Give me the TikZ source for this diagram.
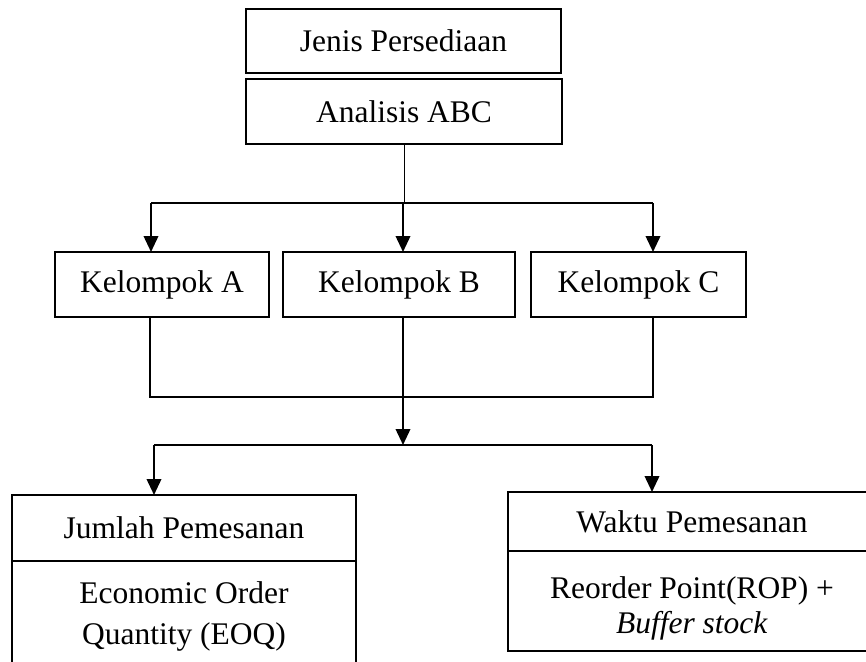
\documentclass[tikz,border=0pt]{standalone}
\usepackage{fontspec}
\setmainfont{Liberation Serif}
\usetikzlibrary{arrows.meta}
\begin{document}
\begin{tikzpicture}[x=1pt,y=-1pt,
  box/.style={draw, line width=2.7pt, inner sep=0pt, outer sep=0pt, font=\fontsize{31.5}{38}\selectfont},
  txt/.style={inner sep=0pt, align=center, font=\fontsize{31.5}{35}\selectfont},
  conn/.style={line width=2.2pt},
  thinconn/.style={line width=0.7pt},
  arr/.style={line width=2.2pt, -{Triangle[length=16pt,width=14.5pt]}}]
\useasboundingbox (0,0) rectangle (866,661);
\clip (0,0) rectangle (866,661);
% top boxes
\node[box, minimum width=315pt, minimum height=64pt] (jenis) at (403.5,41) {Jenis Persediaan};
\node[box, minimum width=316pt, minimum height=65pt] (abc) at (404,111.5) {Analisis ABC};
% groups
\node[box, minimum width=214pt, minimum height=65pt] (kA) at (162,284.5) {Kelompok A};
\node[box, minimum width=232pt, minimum height=65pt] (kB) at (399,284.5) {Kelompok B};
\node[box, minimum width=215pt, minimum height=65pt] (kC) at (638.5,284.5) {Kelompok C};
% bottom left
\node[box, minimum width=344pt, minimum height=66pt] (jp) at (184,528) {Jumlah Pemesanan};
\node[box, minimum width=344pt, minimum height=110pt, align=center, font=\fontsize{31.5}{41}\selectfont] (eoq) at (184,616) {Economic Order\\Quantity (EOQ)};
% bottom right
\node[box, minimum width=368pt, minimum height=59pt] (wp) at (692,521.5) {Waktu Pemesanan};
\node[box, minimum width=368pt, minimum height=100pt] (rop) at (692,601) {};
\node[txt] (ropt) at (692,608) {Reorder Point(ROP) +\\\textit{Buffer stock}};
% connector coordinates
\coordinate (t) at (403,203);
\coordinate (tl) at (151,203);
\coordinate (tr) at (653,203);
\coordinate (m) at (403,397);
\coordinate (ml) at (150,397);
\coordinate (mr) at (653,397);
\coordinate (b) at (403,445);
\coordinate (bl) at (154,445);
\coordinate (br) at (652,445);
% top distribution
\draw[thinconn] (abc.south) -- (abc.south |- t);
\draw[conn] (tl) -- (tr);
\draw[arr] (tl) -- (tl |- kA.north);
\draw[arr] (t) -- (t |- kB.north);
\draw[arr] (tr) -- (tr |- kC.north);
% merge
\draw[conn] (kA.south -| ml) -- (ml) -- (mr) -- (kC.south -| mr);
\draw[conn] (kB.south -| m) -- (m);
\draw[arr] (m) -- (b);
% bottom distribution
\draw[conn] (bl) -- (br);
\draw[arr] (bl) -- (bl |- jp.north);
\draw[arr] (br) -- (br |- wp.north);
\end{tikzpicture}
\end{document}
